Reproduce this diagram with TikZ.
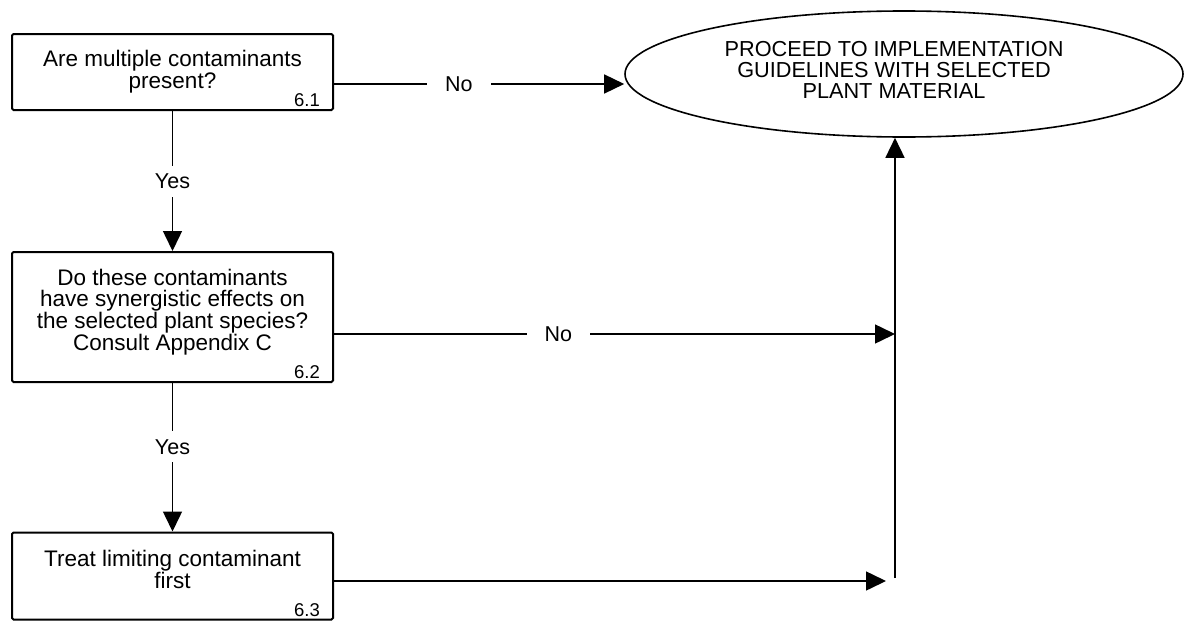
\documentclass[tikz,border=0pt]{standalone}
\usepackage{fontspec}
\setmainfont{Liberation Sans}
\usetikzlibrary{arrows.meta,shapes.geometric}

\tikzset{
  stepbox/.style={draw,line width=2pt,rounded corners=1.5pt,minimum width=321pt,inner sep=0pt},
  boxtext/.style={anchor=base,align=center,inner sep=0pt,font=\fontsize{22.5}{21.8}\selectfont},
  boxnum/.style={anchor=base east,inner sep=0pt,font=\fontsize{18.5}{18.5}\selectfont},
  goalshape/.style={ellipse,draw,line width=1.6pt,minimum width=558pt,minimum height=126pt,inner sep=0pt},
  flow/.style={line width=1.5pt,-{Triangle[length=20pt,width=19pt]}},
  answer/.style={fill=white,inner xsep=18pt,inner ysep=8pt,font=\fontsize{21.5}{21.5}\selectfont}
}

\begin{document}
\begin{tikzpicture}[x=1pt,y=-1pt]
\useasboundingbox (0,0) rectangle (1186,621);

\node[stepbox,minimum height=76pt] (q1) at (172.5,72) {};
\node[boxtext] (q1text) at (172.5,88.5) {Are multiple contaminants\\present?};
\node[boxnum] (q1num) at (320,106.5) {6.1};

\node[stepbox,minimum height=130pt] (q2) at (172.5,317) {};
\node[boxtext] (q2text) at (172.5,350.5) {Do these contaminants\\have synergistic effects on\\the selected plant species?\\Consult Appendix C};
\node[boxnum] (q2num) at (320,378.5) {6.2};

\node[stepbox,minimum height=87pt] (q3) at (172.5,576) {};
\node[boxtext] (q3text) at (172.5,588) {Treat limiting contaminant\\first};
\node[boxnum] (q3num) at (320,616) {6.3};

\node[goalshape] (goal) at (904,74) {};
\node[boxtext,font=\fontsize{21.7}{21}\selectfont] (goaltext) at (894,98) {PROCEED TO IMPLEMENTATION\\GUIDELINES WITH SELECTED\\PLANT MATERIAL};

\coordinate (q1out) at ([yshift=-12pt]q1.east);
\coordinate (q2out) at ([yshift=-17pt]q2.east);
\coordinate (q3out) at ([yshift=-5pt]q3.east);
\coordinate (join) at (895,578);

\draw[flow] (q1.south) -- node[answer] {Yes} (q2.north);
\draw[flow] (q2.south) -- node[answer,pos=0.43] {Yes} (q3.north);
\draw[flow] (q1out) -- node[answer,pos=0.43] {No} (q1out -| goal.west);
\draw[flow] (q2out) -- node[answer,pos=0.4] {No} (q2out -| join);
\draw[flow,shorten >=9pt] (q3out) -- (q3out -| join);
\draw[flow] (join) -- (join |- goal.south);
\end{tikzpicture}
\end{document}
